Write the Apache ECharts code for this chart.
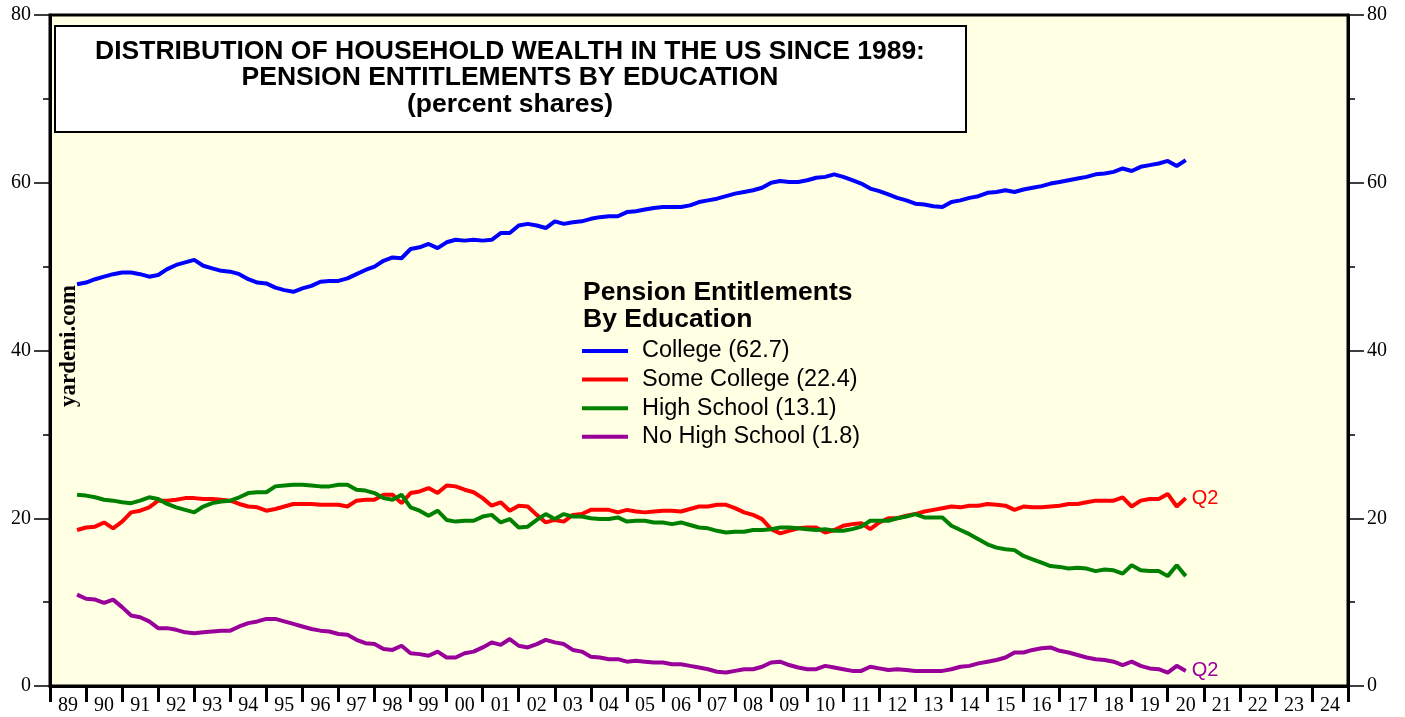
<!DOCTYPE html>
<html>
<head>
<meta charset="utf-8">
<title>Pension Entitlements By Education</title>
<script src="https://cdn.jsdelivr.net/npm/echarts@6/dist/echarts.min.js"></script>
<style>
  html, body { margin: 0; padding: 0; background: #fff; }
  #main { width: 1405px; height: 717px; }
</style>
</head>
<body>
<div id="main"></div>
<script>
// quarterly data, first point 1989 Q3, last point 2020 Q2 (plotted at quarter end)
var startYear = 1989.75;
var yearLabels = ['89','90','91','92','93','94','95','96','97','98','99','00','01','02','03','04','05','06',
  '07','08','09','10','11','12','13','14','15','16','17','18','19','20','21','22','23','24'];
var yTicks = [0, 20, 40, 60, 80];

var college = [47.9,48.1,48.5,48.8,49.1,49.3,49.3,49.1,48.8,49.0,
  49.7,50.2,50.5,50.8,50.1,49.8,49.5,49.4,49.1,48.5,
  48.1,48.0,47.5,47.2,47.0,47.4,47.7,48.2,48.3,48.3,
  48.6,49.1,49.6,50.0,50.7,51.1,51.0,52.1,52.3,52.7,
  52.2,52.9,53.2,53.1,53.2,53.1,53.2,54.0,54.0,54.9,
  55.1,54.9,54.6,55.4,55.1,55.3,55.4,55.7,55.9,56.0,
  56.0,56.5,56.6,56.8,57.0,57.1,57.1,57.1,57.3,57.7,
  57.9,58.1,58.4,58.7,58.9,59.1,59.4,60.0,60.2,60.1,
  60.1,60.3,60.6,60.7,61.0,60.7,60.3,59.9,59.3,59.0,
  58.6,58.2,57.9,57.5,57.4,57.2,57.1,57.7,57.9,58.2,
  58.4,58.8,58.9,59.1,58.9,59.2,59.4,59.6,59.9,60.1,
  60.3,60.5,60.7,61.0,61.1,61.3,61.7,61.4,61.9,62.1,
  62.3,62.6,62.0,62.7];

var someCollege = [18.6,18.9,19.0,19.5,18.8,19.6,20.7,20.9,21.3,22.1,
  22.1,22.2,22.4,22.4,22.3,22.3,22.2,22.1,21.7,21.4,
  21.3,20.9,21.1,21.4,21.7,21.7,21.7,21.6,21.6,21.6,
  21.4,22.1,22.2,22.2,22.8,22.8,21.8,23.0,23.2,23.6,
  23.0,23.9,23.8,23.4,23.1,22.4,21.5,21.9,20.9,21.5,
  21.4,20.4,19.5,19.8,19.6,20.4,20.5,21.0,21.0,21.0,
  20.7,21.0,20.8,20.7,20.8,20.9,20.9,20.8,21.1,21.4,
  21.4,21.6,21.6,21.2,20.7,20.4,19.9,18.7,18.2,18.5,
  18.8,18.9,18.9,18.3,18.6,19.1,19.3,19.4,18.7,19.5,
  20.0,20.0,20.3,20.5,20.8,21.0,21.2,21.4,21.3,21.5,
  21.5,21.7,21.6,21.5,21.0,21.4,21.3,21.3,21.4,21.5,
  21.7,21.7,21.9,22.1,22.1,22.1,22.5,21.4,22.1,22.3,
  22.3,22.9,21.4,22.4];

var highSchool = [22.8,22.7,22.5,22.2,22.1,21.9,21.8,22.1,22.5,22.3,
  21.7,21.3,21.0,20.7,21.4,21.8,22.0,22.1,22.5,23.0,
  23.1,23.1,23.8,23.9,24.0,24.0,23.9,23.8,23.8,24.0,
  24.0,23.4,23.3,23.0,22.4,22.2,22.8,21.3,20.9,20.3,
  20.9,19.8,19.6,19.7,19.7,20.2,20.4,19.5,19.9,18.9,
  19.0,19.8,20.5,19.9,20.5,20.2,20.2,20.0,19.9,19.9,
  20.1,19.6,19.7,19.7,19.5,19.5,19.3,19.5,19.2,18.9,
  18.8,18.5,18.3,18.4,18.4,18.6,18.6,18.7,18.9,18.9,
  18.8,18.7,18.6,18.7,18.5,18.5,18.7,19.0,19.7,19.7,
  19.7,20.0,20.2,20.5,20.1,20.1,20.1,19.1,18.6,18.1,
  17.5,16.9,16.5,16.3,16.2,15.5,15.1,14.7,14.3,14.2,
  14.0,14.1,14.0,13.7,13.9,13.8,13.4,14.4,13.8,13.7,
  13.7,13.1,14.4,13.1];

var noHighSchool = [10.9,10.4,10.3,9.9,10.3,9.4,8.4,8.2,7.7,6.9,
  6.9,6.7,6.4,6.3,6.4,6.5,6.6,6.6,7.1,7.5,
  7.7,8.0,8.0,7.7,7.4,7.1,6.8,6.6,6.5,6.2,
  6.1,5.5,5.1,5.0,4.4,4.3,4.8,3.9,3.8,3.6,
  4.1,3.4,3.4,3.9,4.1,4.6,5.2,4.9,5.6,4.8,
  4.6,5.0,5.5,5.2,5.0,4.3,4.1,3.5,3.4,3.2,
  3.2,2.9,3.0,2.9,2.8,2.8,2.6,2.6,2.4,2.2,
  2.0,1.7,1.6,1.8,2.0,2.0,2.3,2.8,2.9,2.5,
  2.2,2.0,2.0,2.4,2.2,2.0,1.8,1.8,2.3,2.1,
  1.9,2.0,1.9,1.8,1.8,1.8,1.8,2.0,2.3,2.4,
  2.7,2.9,3.1,3.4,4.0,4.0,4.3,4.5,4.6,4.2,
  4.0,3.7,3.4,3.2,3.1,2.9,2.5,2.9,2.4,2.1,
  2.0,1.6,2.4,1.8];

function toPoints(arr) {
  return arr.map(function (v, i) { return [startYear + i * 0.25, v]; });
}

var sans = 'Liberation Sans, Arial, sans-serif';
var serif = 'Liberation Serif, Times New Roman, serif';

var chart = echarts.init(document.getElementById('main'));

function yAxisDef(pos) {
  return {
    type: 'value',
    position: pos,
    min: 0, max: 80, interval: 20,
    axisLine: { show: true, lineStyle: { color: '#000', width: 3 } },
    axisTick: { show: true, inside: false, length: 16, lineStyle: { color: '#000', width: 1.5 } },
    minorTick: { show: true, splitNumber: 2, length: 7, lineStyle: { color: '#000', width: 1.5 } },
    splitLine: { show: false },
    axisLabel: { color: '#000', fontFamily: serif, fontSize: 20, margin: 19 }
  };
}

function lineSeries(name, data, color, withEnd) {
  return {
    name: name,
    type: 'line',
    xAxisIndex: 0,
    data: toPoints(data),
    showSymbol: false,
    lineStyle: { color: color, width: 4 },
    itemStyle: { color: color },
    endLabel: withEnd ? {
      show: true, formatter: 'Q2', distance: 6, color: color,
      fontFamily: sans, fontSize: 20
    } : { show: false },
    animation: false,
    z: 3
  };
}

var option = {
  backgroundColor: '#ffffff',
  animation: false,
  grid: {
    left: 50, right: 57, top: 15, bottom: 31,
    show: true, backgroundColor: '#FFFFE4', borderColor: '#000', borderWidth: 3
  },
  xAxis: [
    { type: 'value', min: 1989, max: 2025, show: false },
    {
      type: 'category', position: 'bottom', data: yearLabels, boundaryGap: true,
      axisLine: { show: true, lineStyle: { color: '#000', width: 3 } },
      axisTick: { show: true, interval: 0, alignWithLabel: false, length: 16, lineStyle: { color: '#000', width: 3 } },
      axisLabel: { interval: 0, color: '#000', fontFamily: serif, fontSize: 20, margin: 10 },
      splitLine: { show: false }
    }
  ],
  yAxis: [yAxisDef('left'), yAxisDef('right')],
  legend: {
    left: 577, top: 334, orient: 'vertical',
    icon: 'rect', itemWidth: 46, itemHeight: 4, itemGap: 4.6,
    textStyle: { color: '#000', fontFamily: sans, fontSize: 23.5, lineHeight: 22, padding: [0, 0, 0, 9] },
    data: ['College (62.7)', 'Some College (22.4)', 'High School (13.1)', 'No High School (1.8)']
  },
  graphic: [
    {
      type: 'rect', left: 54, top: 25, z: 10,
      shape: { width: 911, height: 106 },
      style: { fill: '#fff', stroke: '#000', lineWidth: 2 }
    },
    {
      type: 'text', x: 510, y: 52, z: 11,
      style: { text: 'DISTRIBUTION OF HOUSEHOLD WEALTH IN THE US SINCE 1989:', fill: '#000',
        font: 'bold 26.5px ' + sans, align: 'center', verticalAlign: 'middle' }
    },
    {
      type: 'text', x: 510, y: 78, z: 11,
      style: { text: 'PENSION ENTITLEMENTS BY EDUCATION', fill: '#000',
        font: 'bold 26.5px ' + sans, align: 'center', verticalAlign: 'middle' }
    },
    {
      type: 'text', x: 510, y: 105, z: 11,
      style: { text: '(percent shares)', fill: '#000',
        font: 'bold 26.5px ' + sans, align: 'center', verticalAlign: 'middle' }
    },
    {
      type: 'text', x: 583, y: 293, z: 11,
      style: { text: 'Pension Entitlements', fill: '#000',
        font: 'bold 26.5px ' + sans, align: 'left', verticalAlign: 'middle' }
    },
    {
      type: 'text', x: 583, y: 320, z: 11,
      style: { text: 'By Education', fill: '#000',
        font: 'bold 26.5px ' + sans, align: 'left', verticalAlign: 'middle' }
    },
    {
      type: 'text', x: 69, y: 346, rotation: Math.PI / 2, z: 11,
      style: { text: 'yardeni.com', fill: '#000',
        font: 'bold 23px ' + serif, align: 'center', verticalAlign: 'middle' }
    }
  ],
  series: [
    lineSeries('College (62.7)', college, '#0000FF', false),
    lineSeries('Some College (22.4)', someCollege, '#FF0000', true),
    lineSeries('High School (13.1)', highSchool, '#008000', false),
    lineSeries('No High School (1.8)', noHighSchool, '#990099', true)
  ]
};

chart.setOption(option);
</script>
</body>
</html>
